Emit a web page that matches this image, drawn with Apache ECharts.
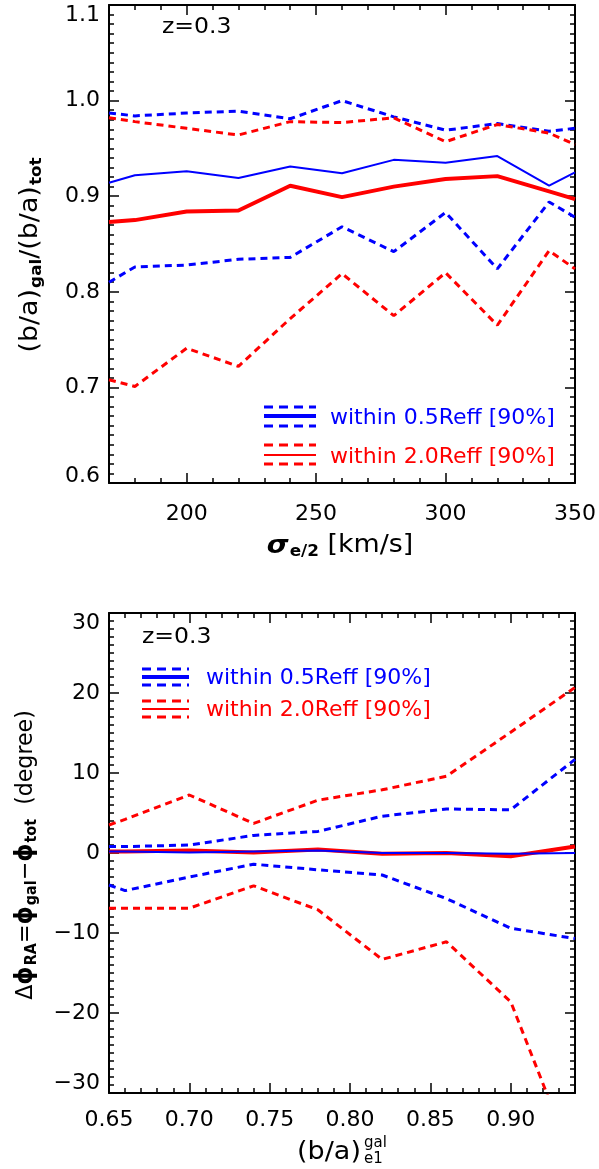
<!DOCTYPE html>
<html>
<head>
<meta charset="utf-8">
<script src="https://cdn.jsdelivr.net/npm/echarts@6/dist/echarts.min.js"></script>
<style>
  html, body { margin: 0; padding: 0; background: #fff; }
  #chart { width: 599px; height: 1169px; }
</style>
</head>
<body>
<div id="chart"></div>
<script>
// top panel: (b/a)gal/(b/a)tot against sigma_e/2
var sigma = [170, 180, 200, 220, 240, 260, 280, 300, 320, 340, 350];
var in05Med = [0.914, 0.922, 0.926, 0.919, 0.931, 0.924, 0.938, 0.935, 0.942, 0.911, 0.925];
var in05Hi = [0.987, 0.984, 0.987, 0.989, 0.981, 1.000, 0.983, 0.969, 0.976, 0.968, 0.971];
var in05Lo = [0.810, 0.826, 0.828, 0.834, 0.836, 0.868, 0.842, 0.883, 0.824, 0.894, 0.878];
var in20Med = [0.873, 0.875, 0.884, 0.885, 0.911, 0.899, 0.910, 0.918, 0.921, 0.905, 0.897];
var in20Hi = [0.982, 0.978, 0.971, 0.964, 0.978, 0.977, 0.982, 0.957, 0.975, 0.966, 0.954];
var in20Lo = [0.708, 0.701, 0.741, 0.722, 0.772, 0.819, 0.775, 0.820, 0.765, 0.843, 0.824];

// bottom panel: delta phi against (b/a)gal_e1
var ba = [0.65, 0.66, 0.70, 0.74, 0.78, 0.82, 0.86, 0.90, 0.94];
var dphi05Med = [0.2, 0.2, 0.05, 0.2, 0.3, 0.0, 0.0, -0.1, 0.0];
var dphi05Hi = [0.8, 0.8, 1.0, 2.2, 2.7, 4.6, 5.5, 5.4, 11.7];
var dphi05Lo = [-4.0, -4.7, -3.0, -1.4, -2.1, -2.75, -5.7, -9.4, -10.7];
var dphi20Med = [0.2, 0.2, 0.3, 0.05, 0.45, -0.1, 0.0, -0.4, 0.8];
var dphi20Hi = [3.5, 4.2, 7.25, 3.7, 6.6, 7.9, 9.6, 15.1, 20.7];
var dphi20Lo = [-6.9, -6.9, -6.9, -4.1, -7.1, -13.3, -11.1, -18.6, -39];

// tick labels
var sigmaTicks = [200, 250, 300, 350];
var ratioTicks = [0.6, 0.7, 0.8, 0.9, 1.0, 1.1];
var baTicks = [0.65, 0.70, 0.75, 0.80, 0.85, 0.90];
var dphiTicks = [-30, -20, -10, 0, 10, 20, 30];

var label05 = 'within 0.5Reff [90%]';
var label20 = 'within 2.0Reff [90%]';

var FONT = 'DejaVu Sans';
var BLUE = '#0000ff';
var RED = '#ff0000';

function zip(xs, ys) {
  return xs.map(function (x, i) { return [x, ys[i]]; });
}

function richLabel(pad) {
  return { fontSize: 22, fontFamily: FONT, color: '#000', padding: pad };
}

// axis carrying the long ticks (and the labels on bottom / left)
function majorAxis(grid, pos, min, max, ticks, labels, fmt, margin) {
  return {
    type: 'value', gridIndex: grid, position: pos, min: min, max: max,
    axisLine: { show: true, onZero: false, lineStyle: { color: '#000', width: 2 } },
    axisTick: { show: true, inside: true, length: 10, customValues: ticks, lineStyle: { color: '#000', width: 1.5 } },
    axisLabel: {
      show: labels, customValues: ticks, formatter: fmt, margin: margin,
      fontSize: 22, fontFamily: FONT, color: '#000',
      rich: { dn: richLabel([20, 0, 0, 0]), up: richLabel([0, 0, 14, 0]), dn2: richLabel([20, 0, 0, 0]), up2: richLabel([0, 0, 20, 0]) }
    },
    splitLine: { show: false }
  };
}

// axis carrying the short ticks only
function minorAxis(grid, pos, min, max, step) {
  return {
    type: 'value', gridIndex: grid, position: pos, min: min, max: max, interval: step,
    axisLine: { show: false, onZero: false },
    axisTick: { show: true, inside: true, length: 5, lineStyle: { color: '#000', width: 1.5 } },
    axisLabel: { show: false },
    splitLine: { show: false }
  };
}

function fmtRatio(v) {
  if (v === 1.1) return '{dn|1.1}';
  if (v === 0.6) return '{up|0.6}';
  return v.toFixed(1);
}
function fmtDphi(v) {
  var s = v < 0 ? '\u2212' + Math.abs(v) : String(v);
  if (v === 30) return '{dn2|' + s + '}';
  if (v === -30) return '{up2|' + s + '}';
  return s;
}

function line(name, x, y, xi, yi, color, width, dashed) {
  return {
    name: name, type: 'line', xAxisIndex: xi, yAxisIndex: yi,
    data: zip(x, y), symbol: 'none', clip: true, silent: true,
    lineStyle: { color: color, width: width, type: dashed ? [7, 5] : 'solid' }
  };
}

function legendGlyph(x1, x2, yTop, yMid, yBot, color, midWidth) {
  return [
    { type: 'line', shape: { x1: x1, y1: yTop, x2: x2, y2: yTop }, style: { stroke: color, lineWidth: 3, lineDash: [9, 6] } },
    { type: 'line', shape: { x1: x1, y1: yMid, x2: x2, y2: yMid }, style: { stroke: color, lineWidth: midWidth } },
    { type: 'line', shape: { x1: x1, y1: yBot, x2: x2, y2: yBot }, style: { stroke: color, lineWidth: 3, lineDash: [9, 6] } }
  ];
}

function text(x, y, str, color, size, align, extra) {
  var el = {
    type: 'text', x: x, y: y,
    style: {
      text: str, fill: color, font: size + 'px "' + FONT + '"',
      align: align, verticalAlign: 'middle',
      rich: {
        sb: { fontSize: 15, fontWeight: 'bold', fontFamily: FONT, fill: color, padding: [13, 0, 0, 1], verticalAlign: 'middle' },
        sg: { fontSize: 25, fontWeight: 'bold', fontStyle: 'italic', fontFamily: FONT, fill: color, verticalAlign: 'middle' },
        ph: { fontSize: 24, fontWeight: 'bold', fontFamily: FONT, fill: color, verticalAlign: 'middle' }
      }
    }
  };
  for (var k in extra) el[k] = extra[k];
  return el;
}

var graphics = [].concat(
  [text(162, 27, 'z=0.3', '#000', 22, 'left', { scaleX: 1.07 })],
  legendGlyph(264, 316, 407, 416, 426, BLUE, 4),
  legendGlyph(264, 316, 445, 455, 464, RED, 2),
  [text(330, 418, label05, BLUE, 22, 'left'), text(330, 457, label20, RED, 22, 'left')],
  [text(340, 546, '{sg|σ}{sb|e/2} [km/s]', '#000', 24, 'center', { scaleX: 1.12 })],
  [text(31, 255, '(b/a){sb|gal}/(b/a){sb|tot}', '#000', 24, 'center', { rotation: Math.PI / 2, scaleX: 1.12 })],

  [text(142, 637, 'z=0.3', '#000', 22, 'left', { scaleX: 1.07 })],
  legendGlyph(142, 189, 669, 677, 685, BLUE, 4),
  legendGlyph(142, 189, 701, 709, 717, RED, 2),
  [text(206, 678, label05, BLUE, 22, 'left'), text(206, 710, label20, RED, 22, 'left')],
  [text(329, 1152, '(b/a)', '#000', 25, 'center', { scaleX: 1.08 }),
   text(364, 1143, 'gal', '#000', 15, 'left'),
   text(364, 1159, 'e1', '#000', 15, 'left')],
  [text(26, 855, 'Δ{ph|ϕ}{sb|RA}={ph|ϕ}{sb|gal}\u2212{ph|ϕ}{sb|tot}  (degree)', '#000', 23, 'center', { rotation: Math.PI / 2, scaleX: 0.96 })]
);

var myChart = echarts.init(document.getElementById('chart'), null, { renderer: 'canvas' });

var option = {
  animation: false,
  backgroundColor: '#fff',
  grid: [
    { left: 109, top: 5, width: 466, height: 478, containLabel: false },
    { left: 109, top: 613, width: 466, height: 480, containLabel: false }
  ],
  xAxis: [
    majorAxis(0, 'bottom', 170, 350, sigmaTicks, true, function (v) { return String(v); }, 20),
    minorAxis(0, 'bottom', 170, 350, 10),
    majorAxis(0, 'top', 170, 350, sigmaTicks, false, null, 8),
    minorAxis(0, 'top', 170, 350, 10),
    majorAxis(1, 'bottom', 0.65, 0.94, baTicks, true, function (v) { return v.toFixed(2); }, 16),
    minorAxis(1, 'bottom', 0.65, 0.94, 0.01),
    majorAxis(1, 'top', 0.65, 0.94, baTicks, false, null, 8),
    minorAxis(1, 'top', 0.65, 0.94, 0.01)
  ],
  yAxis: [
    majorAxis(0, 'left', 0.6, 1.1, ratioTicks, true, fmtRatio, 9),
    minorAxis(0, 'left', 0.6, 1.1, 0.01),
    majorAxis(0, 'right', 0.6, 1.1, ratioTicks, false, null, 8),
    minorAxis(0, 'right', 0.6, 1.1, 0.01),
    majorAxis(1, 'left', -30, 30, dphiTicks, true, fmtDphi, 9),
    minorAxis(1, 'left', -30, 30, 1),
    majorAxis(1, 'right', -30, 30, dphiTicks, false, null, 8),
    minorAxis(1, 'right', -30, 30, 1)
  ],
  series: [
    line(label05, sigma, in05Hi, 0, 0, BLUE, 3, true),
    line(label05, sigma, in05Lo, 0, 0, BLUE, 3, true),
    line(label20, sigma, in20Hi, 0, 0, RED, 3, true),
    line(label20, sigma, in20Lo, 0, 0, RED, 3, true),
    line(label05, sigma, in05Med, 0, 0, BLUE, 2, false),
    line(label20, sigma, in20Med, 0, 0, RED, 4, false),

    line(label05, ba, dphi05Hi, 4, 4, BLUE, 3, true),
    line(label05, ba, dphi05Lo, 4, 4, BLUE, 3, true),
    line(label20, ba, dphi20Hi, 4, 4, RED, 3, true),
    line(label20, ba, dphi20Lo, 4, 4, RED, 3, true),
    line(label20, ba, dphi20Med, 4, 4, RED, 4, false),
    line(label05, ba, dphi05Med, 4, 4, BLUE, 2, false)
  ],
  graphic: graphics
};

myChart.setOption(option);
</script>
</body>
</html>
